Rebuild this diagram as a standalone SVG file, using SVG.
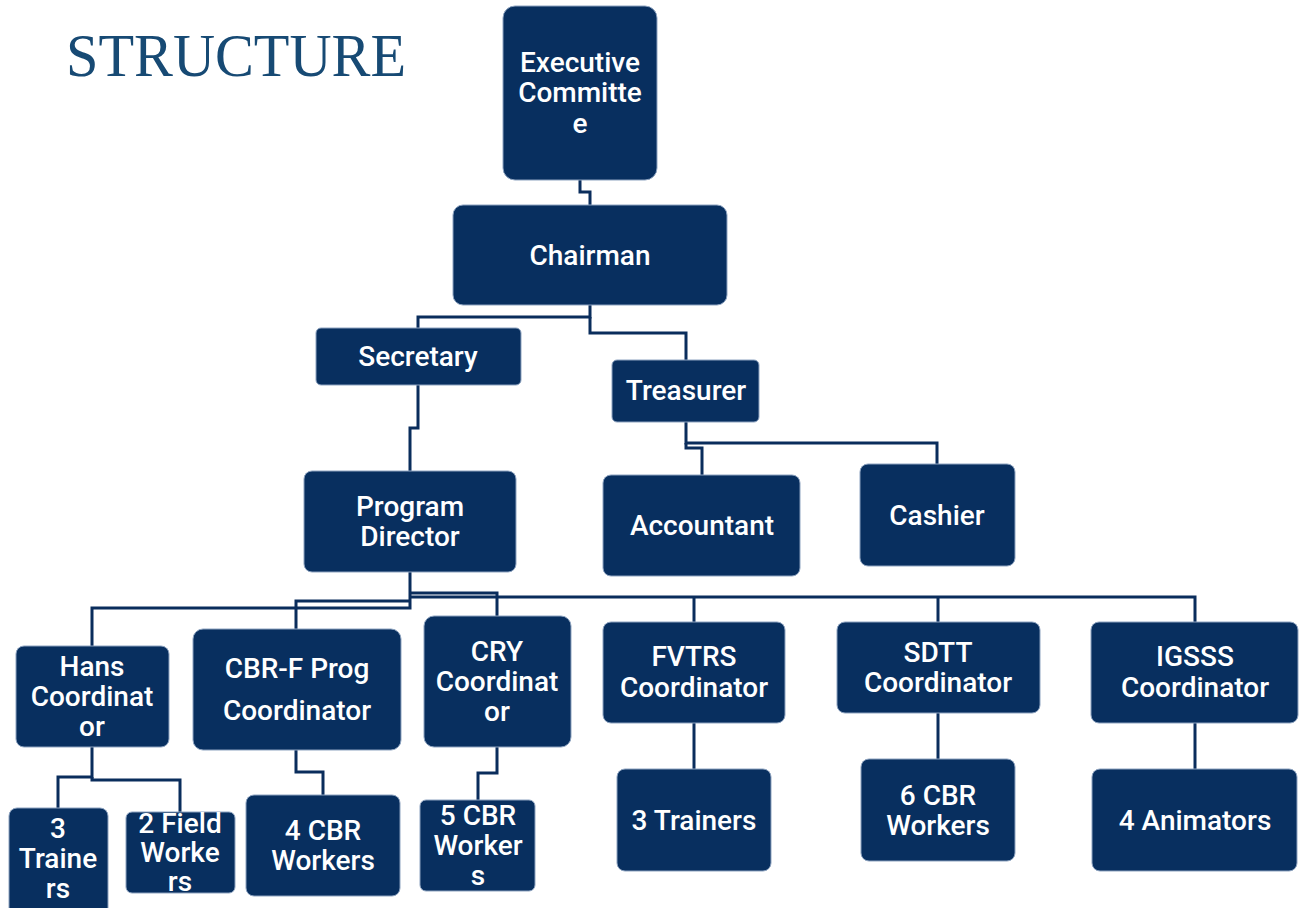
<svg xmlns="http://www.w3.org/2000/svg" width="1300" height="908" viewBox="0 0 1300 908">
<style>
.b{fill:#082f5f;stroke:#8da3c0;stroke-width:1}
.t{fill:#fff;font-family:Roboto,"Liberation Sans",sans-serif;font-weight:500;font-size:28px;text-anchor:middle}
.c{fill:none;stroke:#0a2d5c;stroke-width:3;stroke-linejoin:miter}
</style>
<rect width="1300" height="908" fill="#fff"/>
<text x="66" y="76" font-family="Liberation Serif,serif" font-size="62" fill="#174a74" textLength="340" lengthAdjust="spacingAndGlyphs">STRUCTURE</text>
<g id="connectors">
<polyline class="c" points="580,180 580,192 590,192 590,205"/>
<polyline class="c" points="590,305 590,317 418,317 418,328"/>
<polyline class="c" points="590,317 590,333 686,333 686,360"/>
<polyline class="c" points="418,385 418,428 410,428 410,471"/>
<polyline class="c" points="686,422 686,443 937,443 937,464"/>
<polyline class="c" points="686,443 686,448 702,448 702,475"/>
<polyline class="c" points="410,572 410,608 92,608 92,646"/>
<polyline class="c" points="410,601 296,601 296,629"/>
<polyline class="c" points="410,593 497,593 497,616"/>
<polyline class="c" points="410,597 1195,597 1195,622"/>
<line class="c" x1="694" y1="597" x2="694" y2="622"/>
<line class="c" x1="938" y1="597" x2="938" y2="622"/>
<polyline class="c" points="92,747 92,777 58,777 58,808"/>
<polyline class="c" points="92,777 92,780 180,780 180,812"/>
<polyline class="c" points="296,750 296,772 323,772 323,795"/>
<polyline class="c" points="497,747 497,773 478,773 478,800"/>
<line class="c" x1="694" y1="723" x2="694" y2="769"/>
<line class="c" x1="938" y1="713" x2="938" y2="759"/>
<line class="c" x1="1195" y1="723" x2="1195" y2="769"/>
</g>
<g id="exec"><rect class="b" x="503" y="6" width="154" height="174" rx="12"/><text class="t" x="580" y="72">Executive</text><text class="t" x="580" y="102">Committe</text><text class="t" x="580" y="133">e</text></g>
<g id="chairman"><rect class="b" x="453" y="205" width="274" height="100" rx="10"/><text class="t" x="590" y="265">Chairman</text></g>
<g id="secretary"><rect class="b" x="316" y="328" width="205" height="57" rx="5"/><text class="t" x="418" y="366">Secretary</text></g>
<g id="treasurer"><rect class="b" x="612" y="360" width="147" height="62" rx="5"/><text class="t" x="686" y="400">Treasurer</text></g>
<g id="director"><rect class="b" x="304" y="471" width="212" height="101" rx="8"/><text class="t" x="410" y="516">Program</text><text class="t" x="410" y="546">Director</text></g>
<g id="accountant"><rect class="b" x="603" y="475" width="197" height="101" rx="8"/><text class="t" x="702" y="535">Accountant</text></g>
<g id="cashier"><rect class="b" x="860" y="464" width="155" height="102" rx="8"/><text class="t" x="937" y="525">Cashier</text></g>
<g id="hans"><rect class="b" x="16" y="646" width="153" height="101" rx="8"/><text class="t" x="92" y="676">Hans</text><text class="t" x="92" y="706">Coordinat</text><text class="t" x="92" y="736">or</text></g>
<g id="cbrf"><rect class="b" x="193" y="629" width="208" height="121" rx="10"/><text class="t" x="297" y="678">CBR-F Prog</text><text class="t" x="297" y="720">Coordinator</text></g>
<g id="cry"><rect class="b" x="424" y="616" width="147" height="131" rx="10"/><text class="t" x="497" y="661">CRY</text><text class="t" x="497" y="691">Coordinat</text><text class="t" x="497" y="721">or</text></g>
<g id="fvtrs"><rect class="b" x="603" y="622" width="182" height="101" rx="8"/><text class="t" x="694" y="666">FVTRS</text><text class="t" x="694" y="697">Coordinator</text></g>
<g id="sdtt"><rect class="b" x="837" y="622" width="203" height="91" rx="8"/><text class="t" x="938" y="662">SDTT</text><text class="t" x="938" y="692">Coordinator</text></g>
<g id="igsss"><rect class="b" x="1091" y="622" width="207" height="101" rx="8"/><text class="t" x="1195" y="666">IGSSS</text><text class="t" x="1195" y="697">Coordinator</text></g>
<g id="trainers3a"><rect class="b" x="9" y="808" width="99" height="110" rx="8"/><text class="t" x="58" y="838">3</text><text class="t" x="58" y="868">Traine</text><text class="t" x="58" y="898">rs</text></g>
<g id="field2"><rect class="b" x="126" y="812" width="109" height="81" rx="6"/><text class="t" x="180" y="833">2 Field</text><text class="t" x="180" y="862">Worke</text><text class="t" x="180" y="891">rs</text></g>
<g id="cbr4"><rect class="b" x="246" y="795" width="154" height="101" rx="8"/><text class="t" x="323" y="840">4 CBR</text><text class="t" x="323" y="870">Workers</text></g>
<g id="cbr5"><rect class="b" x="420" y="800" width="115" height="91" rx="6"/><text class="t" x="478" y="825">5 CBR</text><text class="t" x="478" y="855">Worker</text><text class="t" x="478" y="885">s</text></g>
<g id="trainers3b"><rect class="b" x="617" y="769" width="154" height="102" rx="8"/><text class="t" x="694" y="830">3 Trainers</text></g>
<g id="cbr6"><rect class="b" x="861" y="759" width="154" height="102" rx="8"/><text class="t" x="938" y="805">6 CBR</text><text class="t" x="938" y="835">Workers</text></g>
<g id="animators"><rect class="b" x="1092" y="769" width="205" height="102" rx="8"/><text class="t" x="1195" y="830">4 Animators</text></g>
</svg>
